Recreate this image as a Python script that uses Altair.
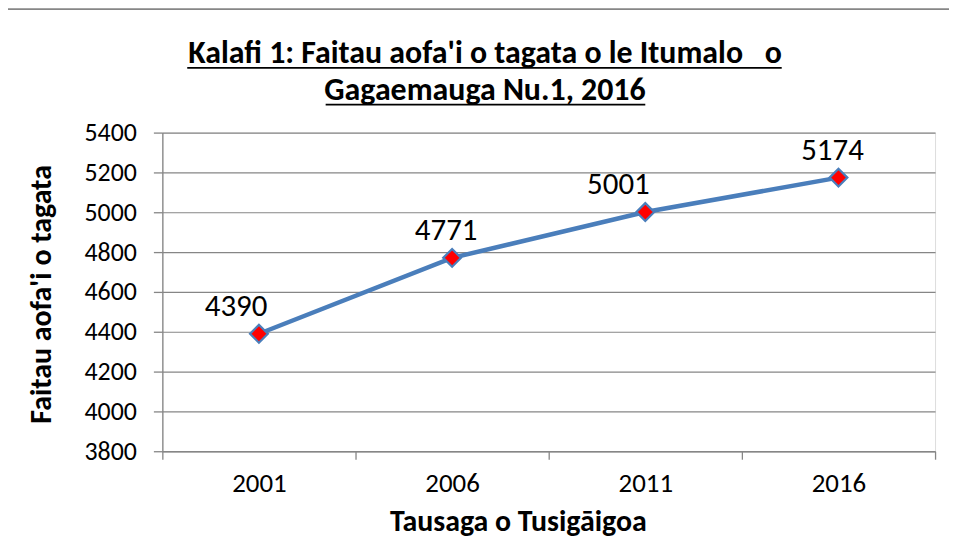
import altair as alt
import pandas as pd

# ---- data ----
years = ["2001", "2006", "2011", "2016"]
population = [4390, 4771, 5001, 5174]
y_ticks = [3800, 4000, 4200, 4400, 4600, 4800, 5000, 5200, 5400]

title_line1 = "Kalafi 1: Faitau aofa'i o tagata o le Itumalo\u00a0\u00a0\u00a0o"
title_line2 = "Gagaemauga Nu.1, 2016"
x_title = "Tausaga o Tusigāigoa"
y_title = "Faitau aofa'i o tagata"

# ---- styling ----
label_nudge_x = [-23, -6, -27, -6]   # manual label placement (pixels)
W, H = 776, 320
FONT = "Carlito, 'Open Sans', sans-serif"
BLUE = "#4A7EBB"
GRAY = "#868686"

df = pd.DataFrame({"year": years, "pop": population, "nudge": label_nudge_x})

x_enc = alt.X(
    "year:N",
    sort=years,
    scale=alt.Scale(type="band", paddingInner=0, paddingOuter=0),
    axis=alt.Axis(
        title=x_title, labelAngle=0, tickBand="extent", grid=False,
        domainColor=GRAY, tickColor=GRAY, tickSize=8, domainWidth=1.3, tickWidth=1.3,
        labelFont=FONT, labelFontSize=27, labelColor="#000", labelPadding=11,
        titleFont=FONT, titleFontSize=30, titleFontWeight="bold", titleColor="#000",
        titleBaseline="alphabetic", titleY=80, titleX=357, titleAlign="center",
    ),
)
y_enc = alt.Y(
    "pop:Q",
    scale=alt.Scale(domain=[3800, 5400], nice=False, zero=False),
    axis=alt.Axis(
        values=y_ticks, format="d", title=y_title, grid=True, gridColor=GRAY, gridWidth=1.2,
        domainColor=GRAY, tickColor=GRAY, tickSize=9, domainWidth=1.3, tickWidth=1.3,
        labelFont=FONT, labelFontSize=26, labelColor="#000", labelPadding=17,
        titleFont=FONT, titleFontSize=30, titleFontWeight="bold", titleColor="#000",
        titleBaseline="alphabetic", titleX=-112, titleY=162, titleAngle=270,
        titleAlign="center",
    ),
)

base = alt.Chart(df)

line = base.mark_line(color=BLUE, strokeWidth=4.5).encode(x=x_enc, y=y_enc)
points = base.mark_point(
    shape="diamond", filled=True, fill="#FF0000", stroke=BLUE, strokeWidth=2.2,
    size=320, opacity=1,
).encode(x=x_enc, y=y_enc)
labels = base.transform_calculate(
    off="datum.nudge + %f" % (W / len(years) / 2)
).mark_text(
    font=FONT, fontSize=31, color="#000", baseline="middle", align="center", dy=-27,
).encode(
    x=x_enc, y=y_enc, text=alt.Text("pop:Q", format="d"),
    xOffset=alt.XOffset("off:Q", scale=None),
)

deco = pd.DataFrame({"k": [0]})
border = alt.Chart(deco).mark_rect(fill=None, stroke=GRAY, strokeWidth=2).encode(
    x=alt.value(-156), x2=alt.value(W + 60), y=alt.value(-124), y2=alt.value(H + 200)
)
t1 = alt.Chart(deco).mark_text(
    font=FONT, fontSize=32, fontWeight="bold", color="#000", align="center",
    baseline="alphabetic",
).encode(x=alt.value(324), y=alt.value(-70), text=alt.value(title_line1))
t2 = alt.Chart(deco).mark_text(
    font=FONT, fontSize=32, fontWeight="bold", color="#000", align="center",
    baseline="alphabetic",
).encode(x=alt.value(324), y=alt.value(-33), text=alt.value(title_line2))
u1 = alt.Chart(deco).mark_rule(color="#000", strokeWidth=1.8).encode(
    x=alt.value(188 - 163), x2=alt.value(785 - 163), y=alt.value(-65)
)
u2 = alt.Chart(deco).mark_rule(color="#000", strokeWidth=1.8).encode(
    x=alt.value(327 - 163), x2=alt.value(648 - 163), y=alt.value(-28)
)

chart = alt.layer(border, line, points, labels, t1, t2, u1, u2).properties(
    width=W, height=H,
    autosize=alt.AutoSizeParams(type="none"),
    padding={"left": 155, "top": 124, "right": 14, "bottom": 87},
).configure_view(stroke=None).configure(background="white")

chart.save("out.html", embed_options={"renderer": "svg", "actions": False})
